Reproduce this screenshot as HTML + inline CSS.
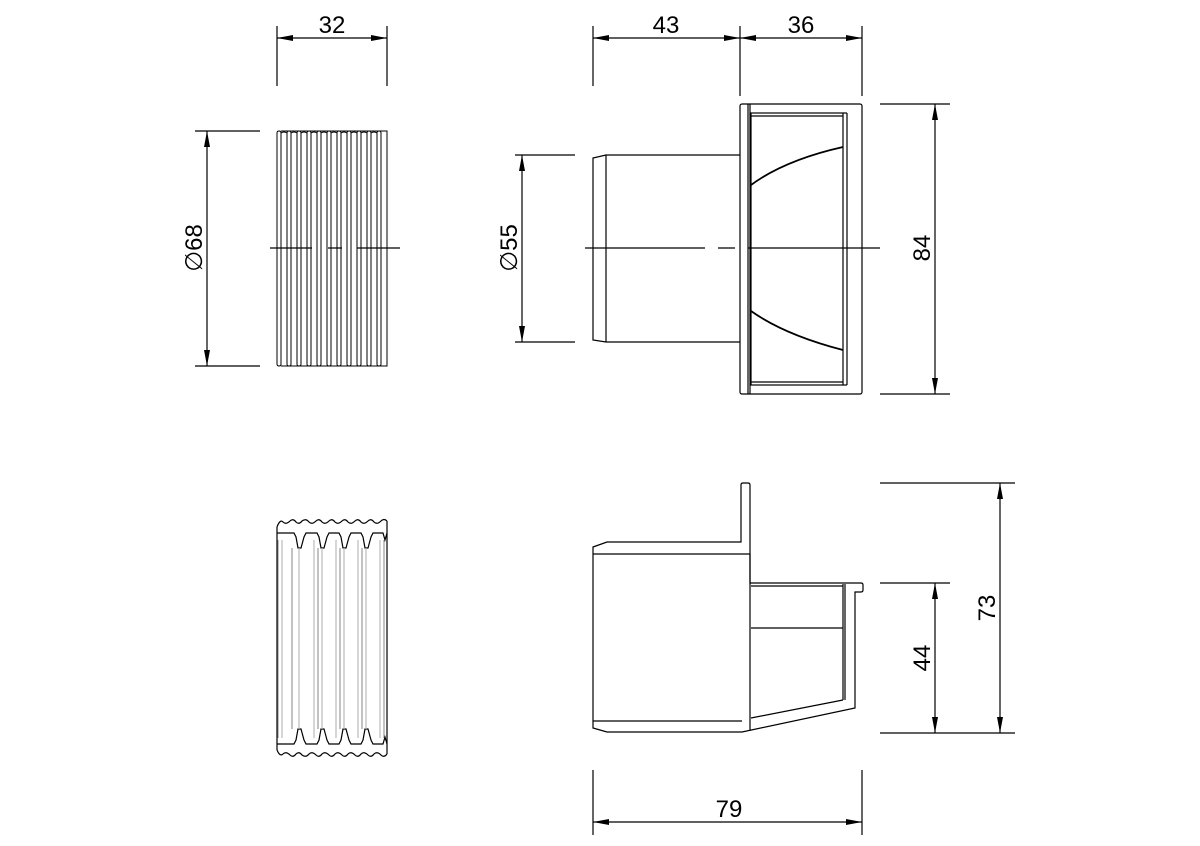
<!DOCTYPE html>
<html><head><style>
html,body{margin:0;padding:0;background:#fff;}
svg{display:block;}
text{font-family:"Liberation Sans",Arial,sans-serif;font-size:24px;fill:#000;}
</style></head><body>
<svg width="1200" height="846" viewBox="0 0 1200 846" xmlns="http://www.w3.org/2000/svg">
<defs>
<marker id="a" viewBox="0 0 16 6" refX="16" refY="3" markerWidth="16" markerHeight="6" markerUnits="userSpaceOnUse" orient="auto-start-reverse"><path d="M0,0 L16,3 L0,6 Z" fill="#000"/></marker>
</defs>
<g stroke="#000" stroke-width="1.2" fill="none">
<!-- dim 32 -->
<line x1="277" y1="26" x2="277" y2="86"/><line x1="387" y1="26" x2="387" y2="86"/>
<line x1="277" y1="38" x2="387" y2="38" marker-start="url(#a)" marker-end="url(#a)"/>
<!-- dim 68 -->
<line x1="195" y1="131" x2="260" y2="131"/><line x1="195" y1="366" x2="260" y2="366"/>
<line x1="207" y1="131" x2="207" y2="366" marker-start="url(#a)" marker-end="url(#a)"/>
<!-- top-left body -->
<g stroke-width="1">
<path d="M277,133Q277,131 279,131Q281,131 281,133V364Q281,366 279,366Q277,366 277,364Z"/>
<path d="M287,133Q287,131 289,131Q291,131 291,133V364Q291,366 289,366Q287,366 287,364Z"/>
<path d="M297,133Q297,131 299,131Q301,131 301,133V364Q301,366 299,366Q297,366 297,364Z"/>
<path d="M307,133Q307,131 309,131Q311,131 311,133V364Q311,366 309,366Q307,366 307,364Z"/>
<path d="M317,133Q317,131 319,131Q321,131 321,133V364Q321,366 319,366Q317,366 317,364Z"/>
<path d="M327,133Q327,131 329,131Q331,131 331,133V364Q331,366 329,366Q327,366 327,364Z"/>
<path d="M337,133Q337,131 339,131Q341,131 341,133V364Q341,366 339,366Q337,366 337,364Z"/>
<path d="M347,133Q347,131 349,131Q351,131 351,133V364Q351,366 349,366Q347,366 347,364Z"/>
<path d="M357,133Q357,131 359,131Q361,131 361,133V364Q361,366 359,366Q357,366 357,364Z"/>
<path d="M367,133Q367,131 369,131Q371,131 371,133V364Q371,366 369,366Q367,366 367,364Z"/>
<path d="M377,133Q377,131 379,131Q381,131 381,133V364Q381,366 379,366Q377,366 377,364Z"/>
<path d="M281,131H387V366H281 M281,133Q284,131 287 133 M291,133Q294,131 297,133 M301,133Q304,131 307,133 M311,133Q314,131 317,133 M321,133Q324,131 327,133 M331,133Q334,131 337,133 M341,133Q344,131 347,133 M351,133Q354,131 357,133 M361,133Q364,131 367,133 M371,133Q374,131 377,133"/>
</g>
<path d="M270,248H312 M328,248H342 M357,248H400"/>

<!-- dims 43 / 36 -->
<line x1="593" y1="26" x2="593" y2="86"/><line x1="740" y1="26" x2="740" y2="96"/><line x1="862" y1="26" x2="862" y2="96"/>
<line x1="593" y1="38" x2="740" y2="38" marker-start="url(#a)" marker-end="url(#a)"/>
<line x1="740" y1="38" x2="862" y2="38" marker-start="url(#a)" marker-end="url(#a)"/>
<!-- dim 55 -->
<line x1="515" y1="155" x2="575" y2="155"/><line x1="515" y1="342" x2="575" y2="342"/>
<line x1="522" y1="155" x2="522" y2="342" marker-start="url(#a)" marker-end="url(#a)"/>
<!-- dim 84 -->
<line x1="880" y1="104" x2="950" y2="104"/><line x1="880" y1="394" x2="950" y2="394"/>
<line x1="935" y1="104" x2="935" y2="394" marker-start="url(#a)" marker-end="url(#a)"/>
<!-- top-right body -->
<path d="M740,155H606L593,158V340L606,342H740"/>
<line x1="606" y1="155" x2="606" y2="342"/>
<rect x="740" y="104" width="122" height="290" rx="2"/>
<line x1="748" y1="104" x2="748" y2="394"/><line x1="750" y1="104" x2="750" y2="394"/>
<rect x="751" y="113" width="92" height="272"/>
<line x1="751" y1="116" x2="843" y2="116"/><line x1="751" y1="382" x2="843" y2="382"/>
<line x1="843" y1="113" x2="847" y2="113"/><line x1="847" y1="113" x2="847" y2="385"/><line x1="843" y1="385" x2="847" y2="385"/>
<path d="M751,185 Q785,160 843,147" stroke-width="1.8"/>
<path d="M751,311 Q785,335 843,350" stroke-width="1.8"/>
<path d="M585,248H705 M718,248H735 M748,248H880"/>

<!-- bottom-left -->
<path d="M277,527 Q280,519 283,522 Q286,525 290,521 Q293,518 296,522 Q299,525 302,521 Q306,518 309,522 Q312,525 316,521 Q319,518 322,522 Q325,525 329,521 Q332,518 335,522 Q338,525 342,521 Q345,518 348,522 Q351,525 355,521 Q358,518 361,522 Q364,525 368,521 Q371,518 374,522 Q377,525 381,521 Q384,518 387,521"/>
<path d="M277,750 Q280,757 283,754 Q286,751 290,755 Q293,758 296,754 Q299,751 302,755 Q306,758 309,754 Q312,751 316,755 Q319,758 322,754 Q325,751 329,755 Q332,758 335,754 Q338,751 342,755 Q345,758 348,754 Q351,751 355,755 Q358,758 361,754 Q364,751 368,755 Q371,758 374,754 Q377,751 381,755 Q384,758 387,754"/>
<line x1="277" y1="527" x2="277" y2="750"/><line x1="387" y1="521" x2="387" y2="754"/>
<path d="M277,533H294L296,537L298,548H301L304,537L306,533H317L319,537L321,548H324L327,537L329,533H339L341,537L343,548H346L349,537L351,533H361L363,537L365,548H368L371,537L373,533H383L385,540L387,533"/>
<path d="M277,744H294L296,740L298,729H301L304,740L306,744H317L319,740L321,729H324L327,740L329,744H339L341,740L343,729H346L349,740L351,744H361L363,740L365,729H368L371,740L373,744H383L385,737L387,744"/>
<g stroke="#bbb"><path d="M282,540V738 M299,548V729 M314,540V738 M322,548V729 M336,540V738 M344,548V729 M358,540V738 M366,548V729 M380,540V738"/></g>
<path d="M278,540V738 M292,548V729 M318,548V729 M340,548V729 M362,548V729 M384,540V738" stroke="#666" stroke-width="0.8"/>

<!-- bottom-right body -->
<path d="M593,547L607,542H741V485Q741,483 743,483H748Q750,483 750,485V583H861Q863,583 863,585V590Q863,592 861,592H855V708L742,732H607L593,728Z"/>
<line x1="593" y1="554" x2="750" y2="554"/>
<line x1="593" y1="721" x2="742" y2="721"/>
<line x1="750" y1="554" x2="750" y2="731"/>
<path d="M751,586H843 M751,628H843 M843,584V700 M845,584V700 M751,718L843,700"/>
<!-- dims 73/44/79 -->
<line x1="880" y1="483" x2="1015" y2="483"/><line x1="880" y1="583" x2="950" y2="583"/><line x1="880" y1="733" x2="1015" y2="733"/>
<line x1="1000" y1="483" x2="1000" y2="733" marker-start="url(#a)" marker-end="url(#a)"/>
<line x1="935" y1="583" x2="935" y2="733" marker-start="url(#a)" marker-end="url(#a)"/>
<line x1="593" y1="770" x2="593" y2="835"/><line x1="862" y1="770" x2="862" y2="835"/>
<line x1="593" y1="822" x2="862" y2="822" marker-start="url(#a)" marker-end="url(#a)"/>
</g>
<text x="332" y="33" text-anchor="middle">32</text>
<text x="666" y="33" text-anchor="middle">43</text>
<text x="801" y="33" text-anchor="middle">36</text>
<text x="729" y="817" text-anchor="middle">79</text>
<text transform="translate(202,248) rotate(-90)" text-anchor="middle">∅68</text>
<text transform="translate(517,248) rotate(-90)" text-anchor="middle">∅55</text>
<text transform="translate(930,248) rotate(-90)" text-anchor="middle">84</text>
<text transform="translate(995,608) rotate(-90)" text-anchor="middle">73</text>
<text transform="translate(930,658) rotate(-90)" text-anchor="middle">44</text>
</svg>
</body></html>
